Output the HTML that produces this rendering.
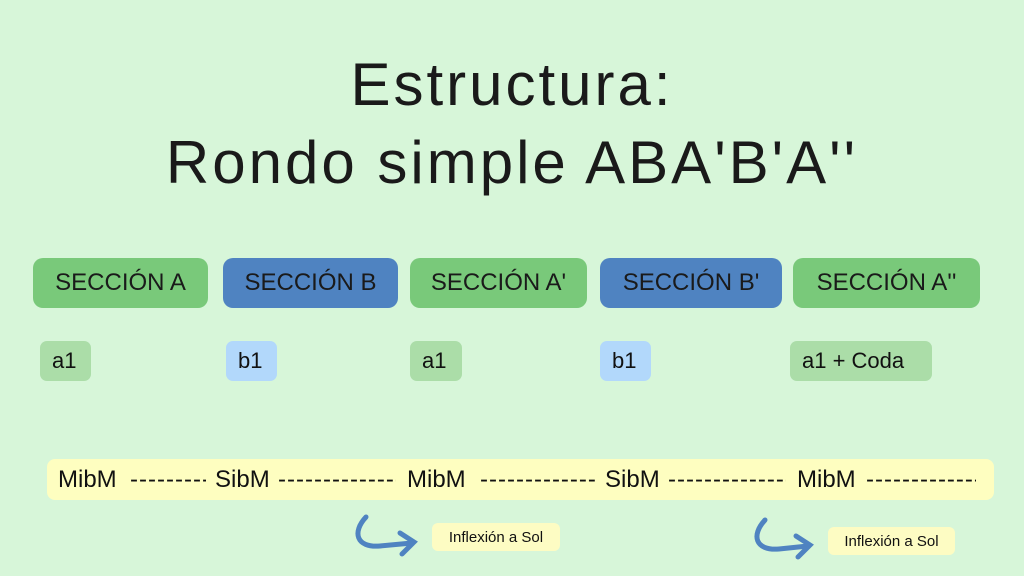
<!DOCTYPE html><html><head><style>
body{margin:0;width:1024px;height:576px;background:#d7f6d9;position:relative;overflow:hidden;font-family:"Liberation Sans",sans-serif;}
.t{position:absolute;left:0;width:1024px;text-align:center;font-size:60px;color:#1a1a1a;letter-spacing:3px;}
.b{position:absolute;top:258px;height:50px;border-radius:10px;display:flex;align-items:center;justify-content:center;font-size:24px;color:#1a1a1a;}
.s{position:absolute;top:341px;height:40px;border-radius:7px;display:flex;align-items:center;padding-left:12px;box-sizing:border-box;font-size:22px;color:#111;}
.g{background:#79c97a}.bl{background:#4f83c1}.lg{background:#abdda8}.lb{background:#b2d8fb}
.i{position:absolute;height:28px;background:#fdfcc3;border-radius:6px;font-size:15px;display:flex;align-items:center;justify-content:center;color:#111}
.w{position:absolute;top:459px;line-height:41px;font-size:24px;color:#111;white-space:nowrap}
.d{position:absolute;top:459px;line-height:41px;font-size:24px;color:#111;overflow:hidden;white-space:nowrap;letter-spacing:1px}
</style></head><body>
<div class="t" style="top:50px">Estructura:</div>
<div class="t" style="top:128px">Rondo simple ABA'B'A''</div>
<div class="b g" style="left:33px;width:175px">SECCIÓN A</div>
<div class="b bl" style="left:223px;width:175px">SECCIÓN B</div>
<div class="b g" style="left:410px;width:177px">SECCIÓN A'</div>
<div class="b bl" style="left:600px;width:182px">SECCIÓN B'</div>
<div class="b g" style="left:793px;width:187px">SECCIÓN A''</div>
<div class="s lg" style="left:40px;width:51px">a1</div>
<div class="s lb" style="left:226px;width:51px">b1</div>
<div class="s lg" style="left:410px;width:52px">a1</div>
<div class="s lb" style="left:600px;width:51px">b1</div>
<div class="s lg" style="left:790px;width:142px">a1 + Coda</div>
<div style="position:absolute;left:47px;top:459px;width:947px;height:41px;background:#fefec0;border-radius:8px"></div>
<div class="w" style="left:58px">MibM</div>
<div class="d" style="left:130px;width:76px">------------------------</div>
<div class="w" style="left:215px">SibM</div>
<div class="d" style="left:278px;width:118px">------------------------------</div>
<div class="w" style="left:407px">MibM</div>
<div class="d" style="left:480px;width:116px">------------------------------</div>
<div class="w" style="left:605px">SibM</div>
<div class="d" style="left:668px;width:118px">------------------------------</div>
<div class="w" style="left:797px">MibM</div>
<div class="d" style="left:866px;width:110px">------------------------------</div>
<div class="i" style="left:432px;top:523px;width:128px">Inflexión a Sol</div>
<div class="i" style="left:828px;top:527px;width:127px">Inflexión a Sol</div>
<svg style="position:absolute;left:0;top:0" width="1024" height="576"><g fill="none" stroke="#4f83c1" stroke-width="5" stroke-linecap="round">
<path d="M366 517 C352 532 356 548 380 546 L412 543"/><path d="M400 533 L414 542 L402 554"/>
<path d="M765 520 C751 535 755 551 779 549 L808 546"/><path d="M796 536 L810 545 L798 557"/></g></svg>
</body></html>
